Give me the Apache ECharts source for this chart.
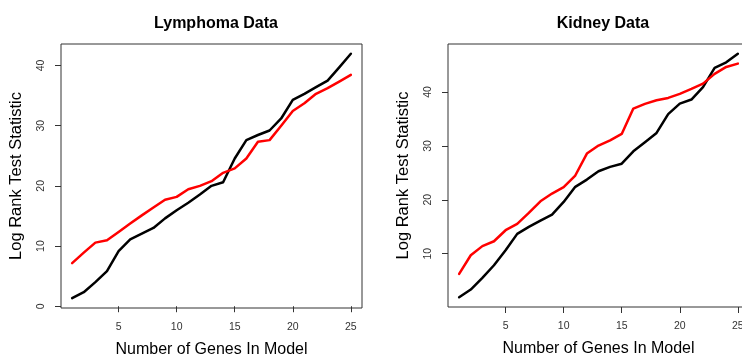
<!DOCTYPE html>
<html>
<head>
<meta charset="utf-8">
<script src="https://cdn.jsdelivr.net/npm/echarts@6/dist/echarts.min.js"></script>
<style>
  html, body { margin: 0; padding: 0; background: #fff; }
  #chart { width: 742px; height: 361px; }
</style>
</head>
<body>
<div id="chart"></div>
<script>
// Number of genes in the model (x values shared by both panels)
const genes = [1, 2, 3, 4, 5, 6, 7, 8, 9, 10, 11, 12, 13, 14, 15, 16, 17, 18, 19, 20, 21, 22, 23, 24, 25];

// Lymphoma data: log rank test statistic
const lymphomaBlack = [1.33, 2.33, 4.0, 5.83, 9.17, 11.1, 12.05, 13.0, 14.6, 15.95, 17.2, 18.55, 20.0, 20.6, 24.55, 27.6, 28.45, 29.2, 31.2, 34.3, 35.3, 36.4, 37.5, 39.7, 41.95];
const lymphomaRed   = [7.17, 8.9, 10.57, 10.95, 12.33, 13.73, 15.1, 16.4, 17.7, 18.17, 19.45, 20.0, 20.78, 22.17, 22.9, 24.55, 27.33, 27.6, 30.0, 32.45, 33.73, 35.3, 36.23, 37.33, 38.45];

// Kidney data: log rank test statistic
const kidneyBlack = [1.91, 3.34, 5.5, 7.85, 10.63, 13.67, 14.97, 16.14, 17.25, 19.6, 22.4, 23.75, 25.3, 26.1, 26.7, 29.0, 30.67, 32.4, 35.9, 37.85, 38.6, 40.9, 44.47, 45.5, 47.1];
const kidneyRed   = [6.24, 9.7, 11.4, 12.3, 14.35, 15.52, 17.56, 19.72, 21.15, 22.33, 24.5, 28.57, 30.06, 31.04, 32.22, 36.92, 37.8, 38.46, 38.9, 39.65, 40.57, 41.56, 43.36, 44.65, 45.27];

// Tick labels
const xTicks = [5, 10, 15, 20, 25];
const lymphomaYTicks = [0, 10, 20, 30, 40];
const kidneyYTicks = [10, 20, 30, 40];

const titles = ['Lymphoma Data', 'Kidney Data'];
const xName = 'Number of Genes In Model';
const yName = 'Log Rank Test Statistic';

const FONT = '"Liberation Sans", Arial, Helvetica, sans-serif';

// R-style axis extension: data range padded by 4% on each side
function padded(arrs) {
  const all = [].concat(...arrs);
  const lo = Math.min(...all), hi = Math.max(...all);
  const pad = (hi - lo) * 0.04;
  return [lo - pad, hi + pad];
}
const xr = padded([genes]);
const yrL = padded([lymphomaBlack, lymphomaRed]);
const yrR = padded([kidneyBlack, kidneyRed]);

const pairs = arr => genes.map((g, i) => [g, arr[i]]);

function xAxis(gridIndex) {
  return {
    type: 'value', gridIndex, min: xr[0], max: xr[1],
    name: xName, nameLocation: 'middle', nameGap: 34,
    nameTextStyle: { fontFamily: FONT, fontSize: 16, color: '#000' },
    splitLine: { show: false },
    axisLine: { show: false },
    axisTick: { show: true, length: 6, customValues: xTicks, lineStyle: { color: '#333' } },
    axisLabel: { customValues: xTicks, margin: 14, fontFamily: FONT, fontSize: 10.5, color: '#333' }
  };
}
function yAxis(gridIndex, range, ticks) {
  return {
    type: 'value', gridIndex, min: range[0], max: range[1],
    name: yName, nameLocation: 'middle', nameGap: 36,
    nameTextStyle: { fontFamily: FONT, fontSize: 16.5, color: '#000' },
    splitLine: { show: false },
    axisLine: { show: false },
    axisTick: { show: true, length: 6, customValues: ticks, lineStyle: { color: '#333' } },
    axisLabel: { customValues: ticks, rotate: 90, margin: 14, fontFamily: FONT, fontSize: 10.5, color: '#333' }
  };
}
function line(xi, data, color) {
  return {
    type: 'line', xAxisIndex: xi, yAxisIndex: xi, data: pairs(data),
    symbol: 'none', silent: true,
    lineStyle: { color, width: 2.5, cap: 'round', join: 'round' }
  };
}

const chart = echarts.init(document.getElementById('chart'), null, { renderer: 'canvas' });
chart.setOption({
  animation: false,
  backgroundColor: '#fff',
  title: [
    { text: titles[0], left: 211, top: 11, textAlign: 'center',
      textStyle: { fontFamily: FONT, fontSize: 16, fontWeight: 'bold', color: '#000' } },
    { text: titles[1], left: 598, top: 11, textAlign: 'center',
      textStyle: { fontFamily: FONT, fontSize: 16, fontWeight: 'bold', color: '#000' } }
  ],
  grid: [
    { left: 61, top: 44, width: 301, height: 264, outerBoundsMode: 'none', containLabel: false,
      show: true, borderColor: '#333', borderWidth: 1, backgroundColor: 'transparent' },
    { left: 448, top: 44, width: 301, height: 263, outerBoundsMode: 'none', containLabel: false,
      show: true, borderColor: '#333', borderWidth: 1, backgroundColor: 'transparent' }
  ],
  xAxis: [xAxis(0), xAxis(1)],
  yAxis: [yAxis(0, yrL, lymphomaYTicks), yAxis(1, yrR, kidneyYTicks)],
  series: [
    line(0, lymphomaBlack, '#000'),
    line(0, lymphomaRed, '#ff0000'),
    line(1, kidneyBlack, '#000'),
    line(1, kidneyRed, '#ff0000')
  ]
});
</script>
</body>
</html>
